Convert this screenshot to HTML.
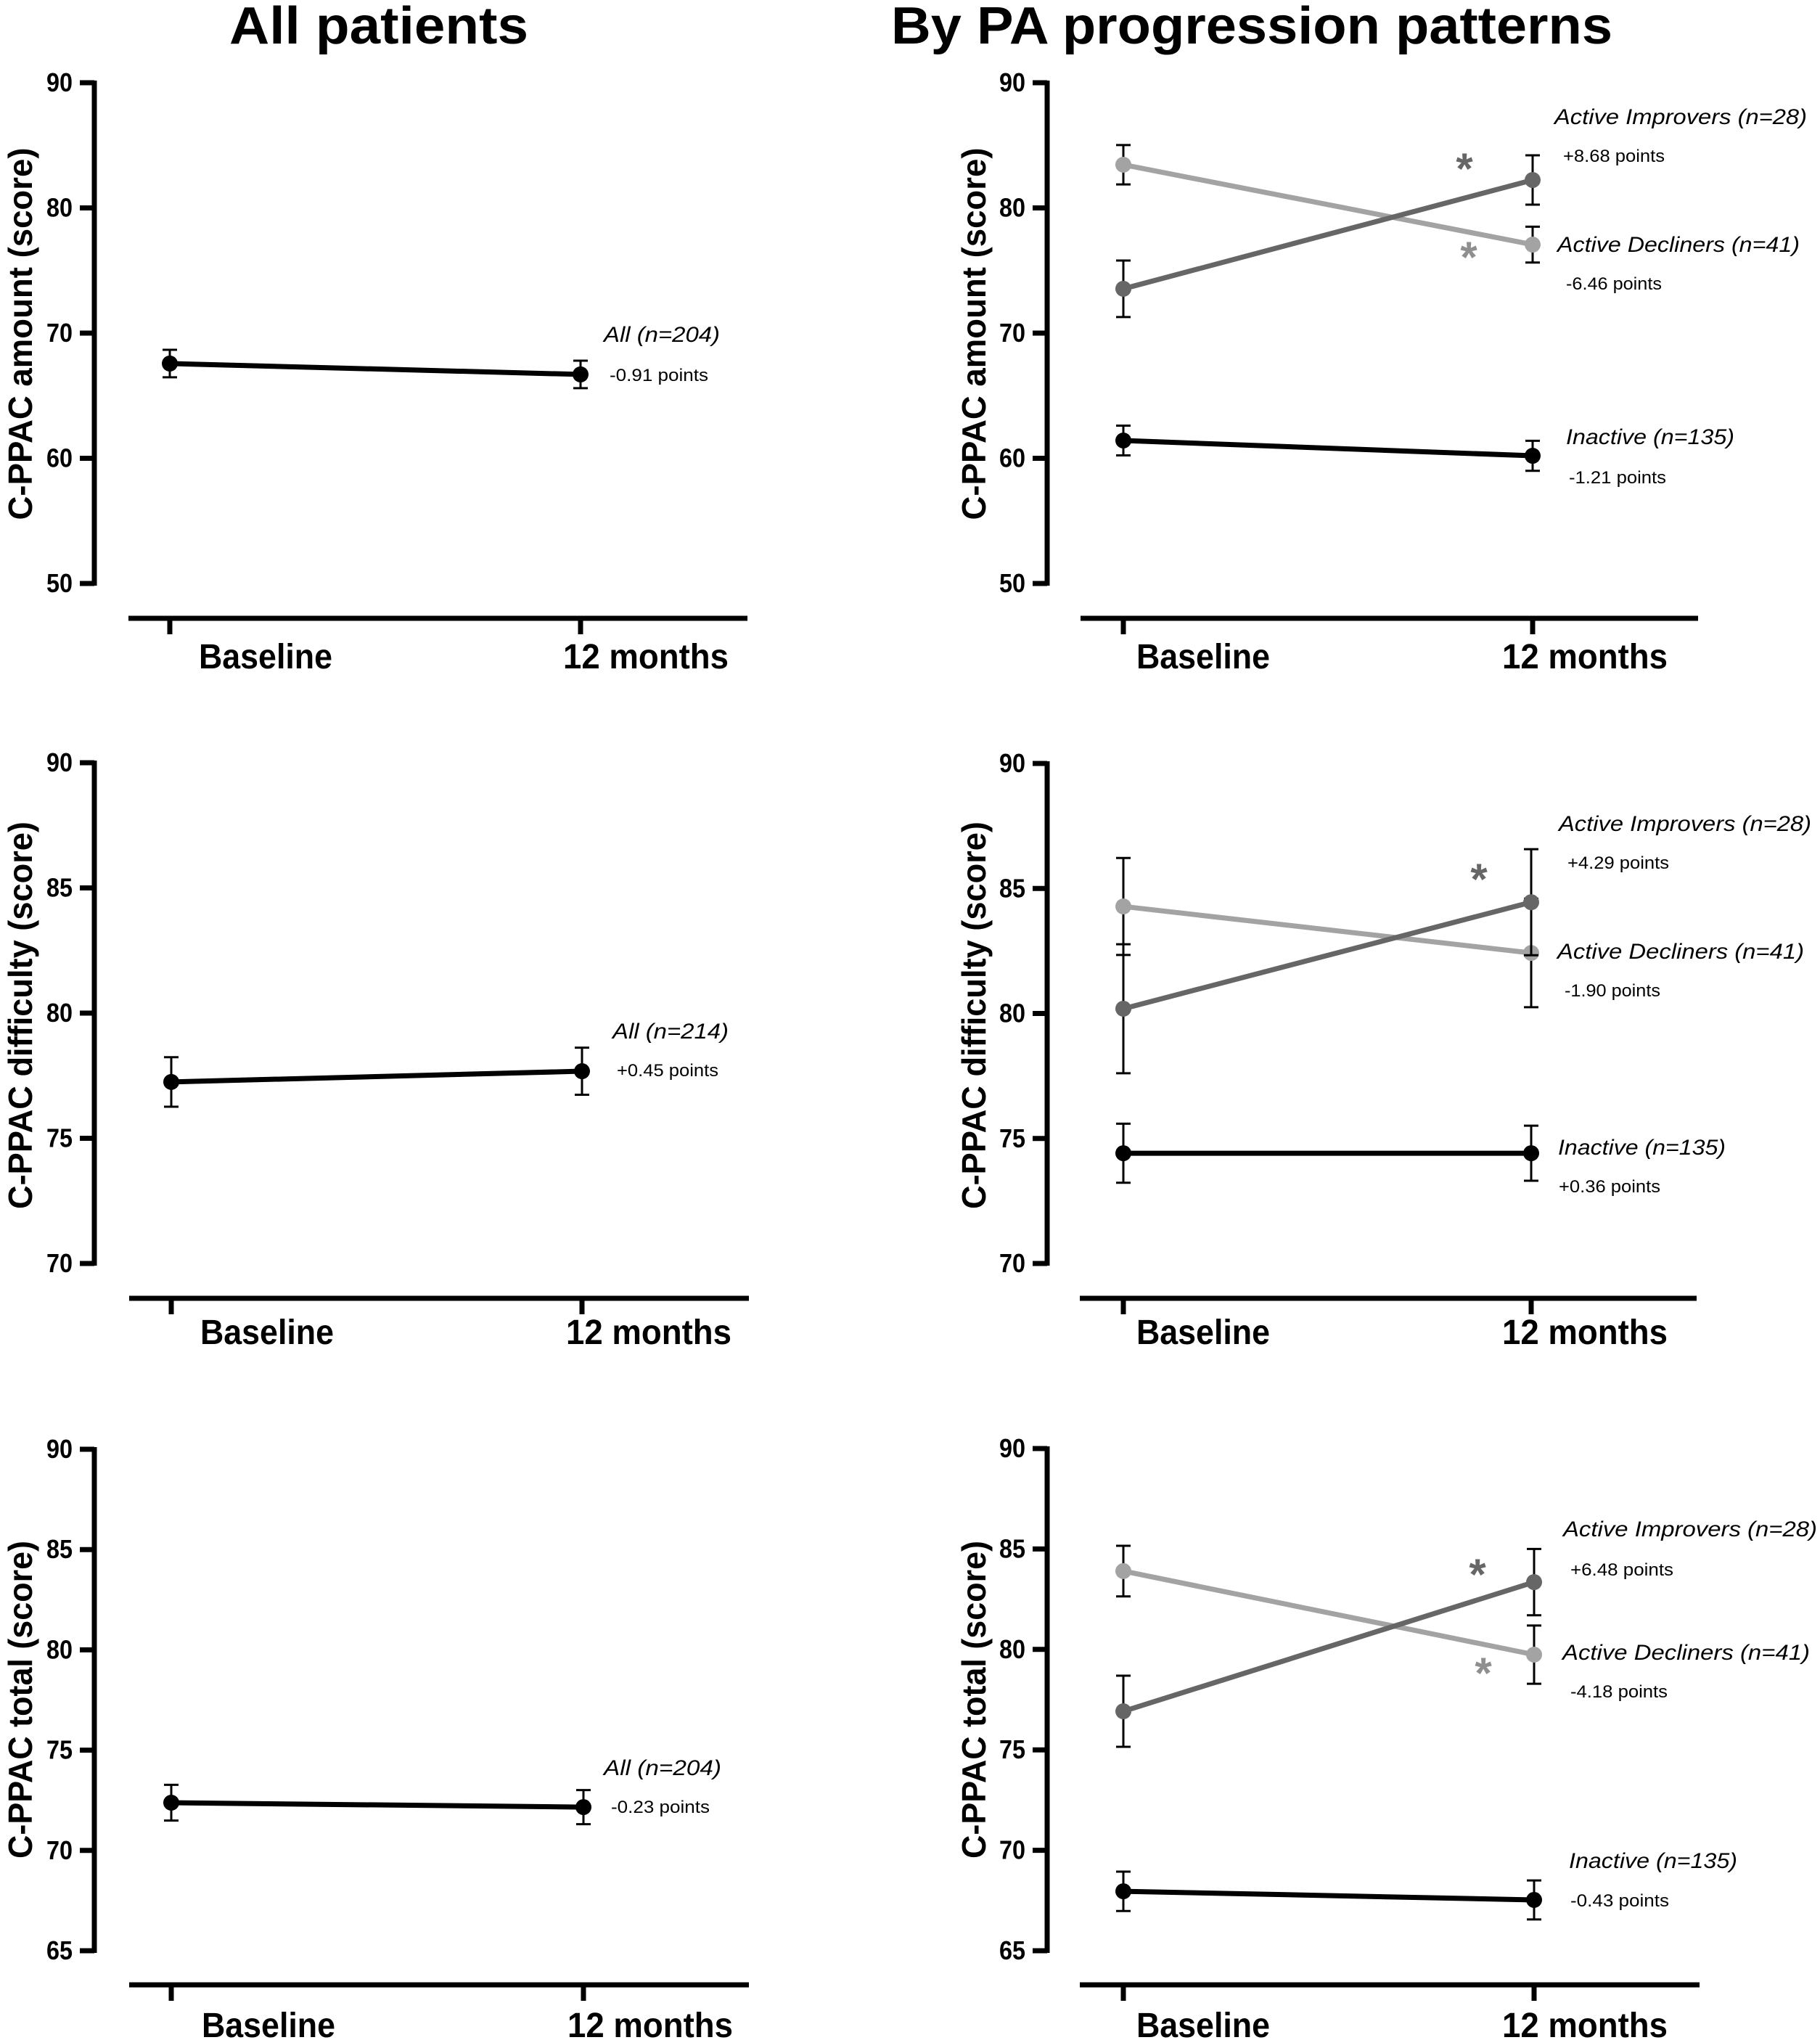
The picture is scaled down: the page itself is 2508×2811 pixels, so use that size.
<!DOCTYPE html>
<html><head><meta charset="utf-8">
<style>
html,body{margin:0;padding:0;background:#fff;}
svg{display:block;font-family:"Liberation Sans",Arial,sans-serif;}
</style></head>
<body>
<svg id="fig" width="2508" height="2811" viewBox="0 0 2508 2811" xmlns="http://www.w3.org/2000/svg">
<rect width="2508" height="2811" fill="#fff"/>
<text x="316" y="60" font-size="72" font-weight="bold" textLength="412" lengthAdjust="spacingAndGlyphs">All patients</text>
<text x="1228" y="60" font-size="72" font-weight="bold" textLength="994" lengthAdjust="spacingAndGlyphs">By PA progression patterns</text>
</svg>
<script>
// ---- data ----
const categories = ["Baseline", "12 months"];
// Amount
const amountAllMean = [67.57, 66.70];
const amountAllErr = [1.10, 1.10];
const amountImproversMean = [73.54, 82.23];
const amountImproversErr = [2.26, 1.97];
const amountDeclinersMean = [83.45, 77.07];
const amountDeclinersErr = [1.57, 1.43];
const amountInactiveMean = [61.42, 60.20];
const amountInactiveErr = [1.19, 1.20];
// Difficulty
const diffAllMean = [77.25, 77.68];
const diffAllErr = [0.99, 0.94];
const diffImproversMean = [80.19, 84.45];
const diffImproversErr = [2.58, 2.12];
const diffDeclinersMean = [84.28, 82.42];
const diffDeclinersErr = [1.94, 2.17];
const diffInactiveMean = [74.41, 74.41];
const diffInactiveErr = [1.18, 1.10];
// Total
const totalAllMean = [72.38, 72.16];
const totalAllErr = [0.89, 0.85];
const totalImproversMean = [76.92, 83.35];
const totalImproversErr = [1.77, 1.65];
const totalDeclinersMean = [83.90, 79.74];
const totalDeclinersErr = [1.26, 1.45];
const totalInactiveMean = [67.96, 67.53];
const totalInactiveErr = [0.98, 0.97];
// ticks
const amountTicks = [50, 60, 70, 80, 90];
const diffTicks = [70, 75, 80, 85, 90];
const totalTicks = [65, 70, 75, 80, 85, 90];

const NS = "http://www.w3.org/2000/svg";
const svg = document.getElementById("fig");
function mk(tag, attrs, parent, txt) {
  const e = document.createElementNS(NS, tag);
  for (const k in attrs) e.setAttribute(k, attrs[k]);
  if (txt !== undefined) e.textContent = txt;
  (parent || svg).appendChild(e);
  return e;
}
const DARK = "#666666", LIGHT = "#a3a3a3", BLACK = "#000";

function panel(cfg) {
  const g = mk("g", {});
  
  
  const yScale = v => cfg.yTop + (cfg.ticks[cfg.ticks.length - 1] - v) * (cfg.yBot - cfg.yTop) / (cfg.ticks[cfg.ticks.length - 1] - cfg.ticks[0]);
  const xScale = i => cfg.xt[i];
  const ya = mk("line", {x1: cfg.ax, y1: cfg.yTop - 3, x2: cfg.ax, y2: cfg.yBot + 3, stroke: "#000", "stroke-width": 7}, g);
  
  
  cfg.ticks.forEach(t => {
    const y = yScale(t);
    mk("line", {x1: cfg.ax - 20, y1: y, x2: cfg.ax, y2: y, stroke: "#000", "stroke-width": 7}, g);
    const tl = mk("text", {x: cfg.ax - 30, y: y + 12, "font-size": 36, "font-weight": "bold", "text-anchor": "end", textLength: 36, lengthAdjust: "spacingAndGlyphs"}, g, String(t));
    
    
  });
  const ty = mk("text", {transform: `translate(${cfg.titleX},${cfg.titleMid}) rotate(-90)`, "font-size": 46, "font-weight": "bold", "text-anchor": "middle", textLength: cfg.titleLen, lengthAdjust: "spacingAndGlyphs"}, g, cfg.ytitle);
  
  
  const xa = mk("line", {x1: cfg.xa0, y1: cfg.xAxisY, x2: cfg.xa1, y2: cfg.xAxisY, stroke: "#000", "stroke-width": 7}, g);
  
  
  categories.forEach((c, i) => {
    mk("line", {x1: xScale(i), y1: cfg.xAxisY, x2: xScale(i), y2: cfg.xAxisY + 22, stroke: "#000", "stroke-width": 7}, g);
    const cl = mk("text", {x: cfg.catX[i], y: cfg.catY, "font-size": 48, "font-weight": "bold", textLength: i === 0 ? 184 : 228, lengthAdjust: "spacingAndGlyphs"}, g, c);
    
    
  });
  cfg.series.forEach(s => {
    const sg = mk("g", {}, g);
    
    
    s.mean.forEach((m, i) => {
      const x = xScale(i);
      const y1 = yScale(m - s.err[i]), y2 = yScale(m + s.err[i]);
      mk("line", {x1: x, y1: y1, x2: x, y2: y2, stroke: "#000", "stroke-width": 3}, sg);
      mk("line", {x1: x - 10, y1: y1, x2: x + 10, y2: y1, stroke: "#000", "stroke-width": 3}, sg);
      mk("line", {x1: x - 10, y1: y2, x2: x + 10, y2: y2, stroke: "#000", "stroke-width": 3}, sg);
    });
    const ln = mk("line", {x1: xScale(0), y1: yScale(s.mean[0]), x2: xScale(1), y2: yScale(s.mean[1]), stroke: s.color, "stroke-width": 7}, sg);
    
    
    s.mean.forEach((m, i) => {
      const c = mk("circle", {cx: xScale(i), cy: yScale(m), r: 11, fill: s.color}, sg);
      
      
    });
  });
  cfg.notes.forEach(n => {
    const t = mk("text", {x: n.x, y: n.y, "font-size": n.it ? 30 : 24, "font-style": n.it ? "italic" : "normal", textLength: n.w, lengthAdjust: "spacingAndGlyphs"}, g, n.t);
    
    
  });
  (cfg.stars || []).forEach(st => {
    const t = mk("text", {x: st.x, y: st.y + 28, "font-size": 60, "font-weight": "bold", fill: st.c, "text-anchor": "middle"}, g, "*");
    
    
  });
}

const L = {ax: 130, xt: [234, 800], xa0: 177, xa1: 1030, catX: [274, 776], titleX: 44};
const R = {ax: 1443, xt: [1548, 2112], xa0: 1489, xa1: 2340, catX: [1566, 2070], titleX: 1358};

panel(Object.assign({}, L, {name: "panel-amount-all", ticks: amountTicks, yTop: 114, yBot: 804, xAxisY: 852, catY: 921, ytitle: "C-PPAC amount (score)", titleMid: 460, titleLen: 513,
  series: [{name: "series-all", mean: amountAllMean, err: amountAllErr, color: BLACK}],
  notes: [{x: 832, y: 471, t: "All (n=204)", w: 160, it: true}, {x: 840, y: 525, t: "-0.91 points", w: 136}]}));
panel(Object.assign({}, R, {name: "panel-amount-groups", ticks: amountTicks, yTop: 114, yBot: 804, xAxisY: 852, catY: 921, ytitle: "C-PPAC amount (score)", titleMid: 460, titleLen: 513,
  series: [{name: "series-inactive", mean: amountInactiveMean, err: amountInactiveErr, color: BLACK},
           {name: "series-active-decliners", mean: amountDeclinersMean, err: amountDeclinersErr, color: LIGHT},
           {name: "series-active-improvers", mean: amountImproversMean, err: amountImproversErr, color: DARK}],
  notes: [{x: 2142, y: 171, t: "Active Improvers (n=28)", w: 348, it: true}, {x: 2154, y: 223, t: "+8.68 points", w: 140},
          {x: 2146, y: 347, t: "Active Decliners (n=41)", w: 334, it: true}, {x: 2158, y: 399, t: "-6.46 points", w: 132},
          {x: 2158, y: 612, t: "Inactive (n=135)", w: 232, it: true}, {x: 2162, y: 666, t: "-1.21 points", w: 134}],
  stars: [{x: 2018, y: 225, c: DARK}, {x: 2024, y: 347, c: "#8f8f8f"}]}));

panel(Object.assign({}, L, {name: "panel-difficulty-all", ticks: diffTicks, yTop: 1051, yBot: 1741, xAxisY: 1789, catY: 1852, xt: [236, 802], xa0: 178, xa1: 1032, catX: [276, 780], ytitle: "C-PPAC difficulty (score)", titleMid: 1399, titleLen: 534,
  series: [{name: "series-all", mean: diffAllMean, err: diffAllErr, color: BLACK}],
  notes: [{x: 844, y: 1431, t: "All (n=214)", w: 160, it: true}, {x: 850, y: 1483, t: "+0.45 points", w: 140}]}));
panel(Object.assign({}, R, {name: "panel-difficulty-groups", ticks: diffTicks, yTop: 1052, yBot: 1741, xAxisY: 1789, catY: 1852, xt: [1548, 2110], xa0: 1488, xa1: 2338, ytitle: "C-PPAC difficulty (score)", titleMid: 1399, titleLen: 534,
  series: [{name: "series-inactive", mean: diffInactiveMean, err: diffInactiveErr, color: BLACK},
           {name: "series-active-decliners", mean: diffDeclinersMean, err: diffDeclinersErr, color: LIGHT},
           {name: "series-active-improvers", mean: diffImproversMean, err: diffImproversErr, color: DARK}],
  notes: [{x: 2148, y: 1145, t: "Active Improvers (n=28)", w: 348, it: true}, {x: 2160, y: 1197, t: "+4.29 points", w: 140},
          {x: 2146, y: 1321, t: "Active Decliners (n=41)", w: 340, it: true}, {x: 2156, y: 1373, t: "-1.90 points", w: 132},
          {x: 2147, y: 1591, t: "Inactive (n=135)", w: 231, it: true}, {x: 2148, y: 1643, t: "+0.36 points", w: 140}],
  stars: [{x: 2038, y: 1204, c: DARK}]}));

panel(Object.assign({}, L, {name: "panel-total-all", ticks: totalTicks, yTop: 1997, yBot: 2688, xAxisY: 2735, catY: 2807, xt: [236, 804], xa0: 178, xa1: 1032, catX: [278, 782], ytitle: "C-PPAC total (score)", titleMid: 2342, titleLen: 438,
  series: [{name: "series-all", mean: totalAllMean, err: totalAllErr, color: BLACK}],
  notes: [{x: 832, y: 2446, t: "All (n=204)", w: 162, it: true}, {x: 842, y: 2498, t: "-0.23 points", w: 136}]}));
panel(Object.assign({}, R, {name: "panel-total-groups", ticks: totalTicks, yTop: 1996, yBot: 2688, xAxisY: 2735, catY: 2807, xt: [1548, 2114], xa0: 1488, xa1: 2342, ytitle: "C-PPAC total (score)", titleMid: 2342, titleLen: 438,
  series: [{name: "series-inactive", mean: totalInactiveMean, err: totalInactiveErr, color: BLACK},
           {name: "series-active-decliners", mean: totalDeclinersMean, err: totalDeclinersErr, color: LIGHT},
           {name: "series-active-improvers", mean: totalImproversMean, err: totalImproversErr, color: DARK}],
  notes: [{x: 2154, y: 2117, t: "Active Improvers (n=28)", w: 350, it: true}, {x: 2164, y: 2171, t: "+6.48 points", w: 142},
          {x: 2153, y: 2287, t: "Active Decliners (n=41)", w: 341, it: true}, {x: 2164, y: 2339, t: "-4.18 points", w: 134},
          {x: 2162, y: 2574, t: "Inactive (n=135)", w: 232, it: true}, {x: 2164, y: 2627, t: "-0.43 points", w: 136}],
  stars: [{x: 2036, y: 2162, c: DARK}, {x: 2044, y: 2298, c: "#8f8f8f"}]}));
</script>
</body></html>
